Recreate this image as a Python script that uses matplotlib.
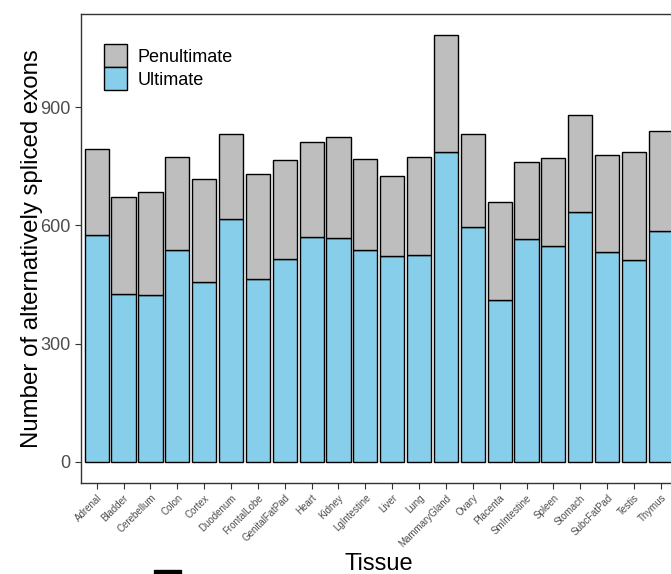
import matplotlib
matplotlib.use("Agg")
import matplotlib.pyplot as plt
import numpy as np

plt.rcParams['font.family'] = ['Liberation Sans', 'DejaVu Sans']

# tissues and exon counts
tissues = ['Adrenal', 'Bladder', 'Cerebellum', 'Colon', 'Cortex', 'Duodenum',
           'FrontalLobe', 'GenitalFatPad', 'Heart', 'Kidney', 'LgIntestine',
           'Liver', 'Lung', 'MammaryGland', 'Ovary', 'Placenta', 'SmIntestine',
           'Spleen', 'Stomach', 'SubcFatPad', 'Testis', 'Thymus']
ultimate = [575, 425, 423, 538, 456, 616, 463, 514, 570, 567, 537,
            523, 525, 786, 596, 411, 566, 548, 634, 533, 511, 585]
total = [793, 673, 685, 774, 718, 832, 731, 766, 811, 824, 769,
         726, 773, 1083, 832, 660, 761, 771, 880, 779, 787, 839]
penultimate = [t - u for t, u in zip(total, ultimate)]
yticks = [0, 300, 600, 900]

fig = plt.figure(figsize=(6.71, 5.74), dpi=100)
ax = fig.add_axes([0.1201, 0.1585, 0.8888, 0.8176])

x = np.arange(len(tissues))
ax.bar(x, ultimate, width=0.9, color='#87CEEB', edgecolor='black',
       linewidth=1.0, label='Ultimate')
ax.bar(x, penultimate, width=0.9, bottom=ultimate, color='#BEBEBE',
       edgecolor='black', linewidth=1.0, label='Penultimate')

ax.set_xlim(-0.6, len(tissues) - 0.4)
top = max(total)
ax.set_ylim(-0.05 * top, 1.05 * top)

ax.set_yticks(yticks)
ax.set_xticks(x)
ax.set_xticklabels(tissues, rotation=45, ha='right', rotation_mode='anchor',
                   fontsize=7, color='#4D4D4D')
ax.tick_params(axis='y', labelsize=13, labelcolor='#4D4D4D', color='#333333',
               length=4, width=0.8)
ax.tick_params(axis='x', color='#333333', length=4, width=0.8, pad=3)
for s in ax.spines.values():
    s.set_color('#333333')
    s.set_linewidth(1.0)

ax.set_xlabel('Tissue', fontsize=17, labelpad=3)
ax.set_ylabel('Number of alternatively spliced exons', fontsize=17.3, labelpad=-2)

h, l = ax.get_legend_handles_labels()
ax.legend(h[::-1], l[::-1], loc='upper left', bbox_to_anchor=(0.012, 0.97),
          frameon=False, fontsize=13, handlelength=1.25, handleheight=1.6,
          handletextpad=0.6, labelspacing=0.0, borderaxespad=0.5)

# black mark at the bottom edge of the crop
fig.patches.append(plt.Rectangle((154 / 671, 0), 27 / 671, 4 / 574,
                                 transform=fig.transFigure, color='black'))

fig.savefig('out.png', dpi=100)
